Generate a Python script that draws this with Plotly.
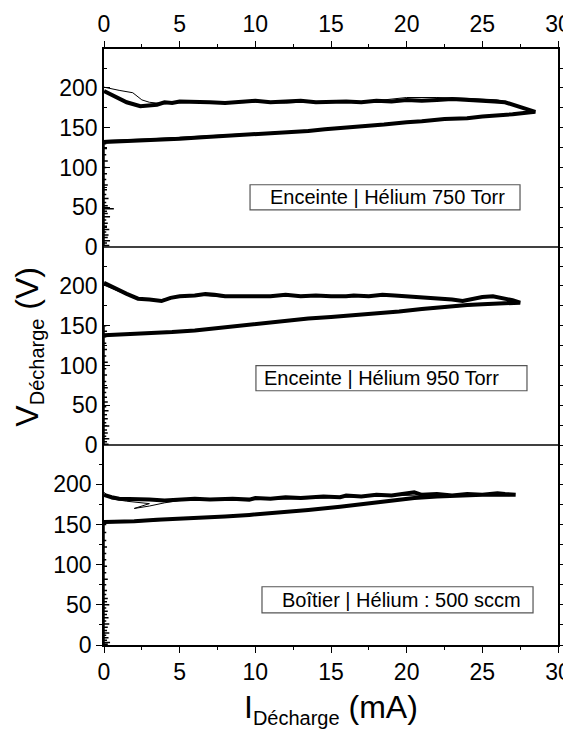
import plotly.graph_objects as go

# ---------------- data ----------------
# Panel 1 : Enceinte | Hélium 750 Torr
top_I_a = [0, 1.5, 2.5, 3.5, 5, 6.5, 7.5, 9.65, 11, 12, 13.5, 14.6, 16, 17, 18.5, 20, 21, 22.5, 24, 25, 26, 27, 28.5,
           27.8, 27.2, 26.5, 25.8, 25, 24, 23, 22, 21, 20, 19, 18, 17, 16, 15, 14, 13, 12, 11, 10, 9, 8, 7, 6, 5, 4.5,
           4, 3.5, 3, 2.4, 1.5, 1, 0.5, 0]
top_V_a = [132, 133, 134, 135, 136, 138, 139, 141, 143, 144, 146, 148, 150, 152, 154, 157, 158, 161, 162, 164, 165, 167, 170,
           174, 178, 182, 183, 184, 185, 186, 185, 184, 185, 183, 184, 182, 183, 183, 182, 184, 183, 182, 184, 183, 181, 182, 183, 183, 181,
           182, 179, 178, 177, 182, 187, 191, 196]
top_I_b = [0, 3, 6, 9, 12, 15, 18, 21, 24, 26, 27.5, 28.3,
           27.8, 27, 26, 24, 22, 20, 18, 16, 14, 12, 10, 8, 6, 4, 3, 2.5, 1.9, 1, 0]
top_V_b = [134, 136, 139, 142, 145, 149, 154, 159, 163, 165, 167, 169,
           174, 180, 185, 187, 188, 188, 184, 182, 183, 181, 182, 181, 183, 180, 182, 185, 194, 197, 201]
top_spike_V = [2, 5, 8, 12, 15, 19, 22, 26, 30, 34, 38, 42, 45, 48, 52, 56, 61, 66, 72, 78, 85, 92, 100, 108, 116, 124, 130]
top_spike_I = [0.35, 0.2, 0.4, 0.25, 0.3, 0.15, 0.35, 0.2, 0.25, 0.15, 0.4, 0.25, 0.2, 0.65, 0.25, 0.15, 0.3, 0.15, 0.2, 0.25, 0.15, 0.2, 0.15, 0.25, 0.15, 0.2, 0.15]

# Panel 2 : Enceinte | Hélium 950 Torr
mid_I_a = [0, 1.5, 3, 4.5, 6, 8, 9.6, 11, 12.3, 13.5, 15, 16.5, 18, 19.5, 21, 22, 23, 24, 25, 26, 27.5,
           27, 26.5, 25.7, 25, 24.5, 23.7, 23, 22, 21, 20, 19.2, 18.4, 17.5, 16.5, 16, 15, 14, 13, 12, 11, 10, 9, 8,
           7.3, 6.7, 6, 5, 4.4, 3.8, 3, 2.25, 1.5, 1, 0.5, 0]
mid_V_a = [138, 139, 140, 142, 144, 148, 152, 155, 157, 159, 161, 163, 166, 168, 171, 173, 175, 176, 177, 178, 179,
           182, 184, 187, 186, 184, 181, 183, 184, 185, 186, 188, 189, 187, 188, 187, 187, 188, 187, 189, 187, 187, 188, 187,
           189, 190, 188, 187, 185, 181, 183, 184, 190, 195, 199, 204]
mid_I_b = [0, 3, 6, 9, 12, 15, 18, 21, 24, 26, 27.3,
           26.3, 25, 24, 22, 20, 18, 16, 14, 12, 10, 8, 6, 4.5, 3.5, 2.3, 1, 0]
mid_V_b = [139, 141, 145, 150, 156, 160, 165, 170, 175, 177, 178,
           185, 186, 182, 185, 187, 188, 186, 189, 187, 188, 186, 189, 185, 182, 185, 193, 201]
mid_spike_V = [1, 4, 8, 11, 15, 19, 24, 28, 33, 38, 43, 48, 54, 60, 66, 72, 80, 88, 96, 104, 112, 120, 128, 136, 143, 150]
mid_spike_I = [0.3, 0.2, 0.35, 0.15, 0.25, 0.2, 0.35, 0.15, 0.25, 0.2, 0.3, 0.15, 0.25, 0.2, 0.15, 0.25, 0.15, 0.2, 0.15, 0.25, 0.15, 0.2, 0.15, 0.15, 0.2, 0.15]

# Panel 3 : Boîtier | Hélium : 500 sccm
bot_I_a = [0, 2, 3.5, 5, 6.5, 8, 9.6, 11, 12, 13.5, 15.6, 17, 18, 19.5, 20.5, 22, 23, 24, 25, 26, 27.2,
           26.5, 26, 25, 24, 23, 22, 21, 20.5, 19.5, 19, 18, 17, 16, 15.6, 14.5, 13, 12, 11, 10, 9.6, 8.5, 7, 6, 5, 4,
           3, 2, 1, 0.5, 0]
bot_V_a = [153, 154, 156, 157, 158, 160, 162, 164, 166, 168, 172, 175, 178, 181, 183, 185, 186, 186, 187, 187, 187,
           188, 189, 187, 188, 186, 188, 187, 190, 188, 186, 187, 185, 186, 184, 185, 183, 184, 182, 183, 181, 182, 181, 182, 181, 180,
           181, 181, 182, 184, 187]
bot_I_b = [0, 3, 6, 9, 12, 15, 18, 21, 24, 26.8,
           25, 22, 19, 16, 13, 10, 7, 5, 4, 3, 2, 3, 1.5, 0.5, 0]
bot_V_b = [152, 154, 158, 161, 165, 170, 177, 183, 186, 186,
           188, 187, 186, 184, 182, 181, 180, 180, 177, 173, 170, 176, 179, 182, 190]
bot_spike_V = [1, 3, 6, 9, 12, 15, 18, 22, 26, 30, 34, 38, 42, 46, 50, 54, 58, 63, 68, 75, 82, 90, 98, 106, 114, 122, 130, 140, 150]
bot_spike_I = [0.25, 0.4, 0.2, 0.3, 0.15, 0.35, 0.2, 0.25, 0.35, 0.15, 0.3, 0.2, 0.25, 0.15, 0.35, 0.2, 0.25, 0.15, 0.2, 0.15, 0.25, 0.15, 0.2, 0.15, 0.15, 0.2, 0.15, 0.15, 0.15]

panel_labels = ["Enceinte | Hélium 750 Torr", "Enceinte | Hélium 950 Torr", "Boîtier | Hélium : 500 sccm"]
y_ticks = [0, 50, 100, 150, 200]
y_minor = [25, 75, 125, 175, 225]
x_ticks = [0, 5, 10, 15, 20, 25, 30]
x_minor = [2.5, 7.5, 12.5, 17.5, 22.5, 27.5]

# ---------------- figure ----------------
FONT = "Liberation Sans"
fig = go.Figure()

def spikes(sV, sI):
    xs, ys = [], []
    for v, i in zip(sV, sI):
        xs += [0, i, 0]
        ys += [v, v, v]
    return xs, ys

def add_panel(yref, Ia, Va, Ib, Vb, sV, sI):
    nx, ny = spikes(sV, sI)
    fig.add_trace(go.Scatter(x=nx, y=ny, mode="lines", line=dict(color="black", width=1.5),
                             xaxis="x", yaxis=yref, showlegend=False))
    fig.add_trace(go.Scatter(x=Ib, y=Vb, mode="lines", line=dict(color="black", width=1),
                             xaxis="x", yaxis=yref, showlegend=False))
    fig.add_trace(go.Scatter(x=Ia, y=Va, mode="lines", line=dict(color="black", width=4),
                             xaxis="x", yaxis=yref, showlegend=False))

add_panel("y3", top_I_a, top_V_a, top_I_b, top_V_b, top_spike_V, top_spike_I)
add_panel("y2", mid_I_a, mid_V_a, mid_I_b, mid_V_b, mid_spike_V, mid_spike_I)
add_panel("y", bot_I_a, bot_V_a, bot_I_b, bot_V_b, bot_spike_V, bot_spike_I)

# invisible traces to activate the mirror axes
fig.add_trace(go.Scatter(x=[None], y=[None], xaxis="x2", yaxis="y3", showlegend=False))
for ya in ["y4", "y5", "y6"]:
    fig.add_trace(go.Scatter(x=[None], y=[None], xaxis="x", yaxis=ya, showlegend=False))

# the page adds an 8 px body margin: figure is 563x723 placed at (8, 8)
W, Hfig = 563, 723
L, R, T, B = 96, 13, 41, 86
H = Hfig - T - B
d1 = 200 / H
d2 = 398 / H
yr = [0, 249]

tickfont = dict(family=FONT, size=23, color="black")

def yax(domain, ticks):
    return dict(domain=domain, range=yr, tickvals=y_ticks, ticks=ticks, ticklen=6, tickwidth=1.2,
                showline=True, linecolor="black", linewidth=1.5, tickcolor="black",
                tickfont=tickfont, showgrid=False, zeroline=False, anchor="x", automargin=False,
                minor=dict(tickmode="array", tickvals=y_minor, ticks=ticks, ticklen=3,
                           tickcolor="black", tickwidth=1.2))

def yright(base):
    return dict(overlaying=base, side="right", range=yr, tickvals=y_ticks, ticks="outside", ticklen=6,
                tickwidth=1.2, tickcolor="black", showticklabels=False, showline=True, linecolor="black",
                linewidth=1.5, showgrid=False, zeroline=False, anchor="x", automargin=False,
                minor=dict(tickmode="array", tickvals=y_minor, ticks="outside", ticklen=3,
                           tickcolor="black", tickwidth=1.2))

xminor = dict(tickmode="array", tickvals=x_minor, ticks="outside", ticklen=3,
              tickcolor="black", tickwidth=1.2)

fig.update_layout(
    width=W, height=Hfig,
    margin=dict(l=L, r=R, t=T, b=B, autoexpand=False),
    paper_bgcolor="white", plot_bgcolor="white",
    showlegend=False,
    xaxis=dict(domain=[0, 1], range=[0, 30], tickvals=x_ticks, ticks="outside", ticklen=6, tickwidth=1.2,
               tickcolor="black", showline=True, linecolor="black", linewidth=1.5, tickfont=tickfont,
               showgrid=False, zeroline=False, anchor="y", minor=xminor, automargin=False),
    xaxis2=dict(overlaying="x", side="top", anchor="y3", range=[0, 30], tickvals=x_ticks, ticks="outside",
                ticklen=6, tickwidth=1.2, tickcolor="black", showline=True, linecolor="black", linewidth=1.5,
                tickfont=tickfont, showgrid=False, zeroline=False, minor=xminor, automargin=False),
    yaxis=yax([0, d1], "outside"),
    yaxis2=yax([d1, d2], "inside"),
    yaxis3=yax([d2, 1], "inside"),
    yaxis4=yright("y"),
    yaxis5=yright("y2"),
    yaxis6=yright("y3"),
)

# separator lines between panels
for yy in [d1, d2]:
    fig.add_shape(type="line", xref="paper", yref="paper", x0=0, x1=1, y0=yy, y1=yy,
                  line=dict(color="black", width=1.5))

# label boxes (data coordinates of each panel)
boxes = [
    ("y3", 9.65, 27.49, 46.7, 78.3, 10.84, 62.5),
    ("y2", 10.04, 27.95, 68.2, 99.7, 10.45, 84.0),
    ("y", 10.44, 28.35, 40.0, 72.5, 11.63, 56.0),
]
for (yref, x0, x1, y0, y1, tx, ty), label in zip(boxes, panel_labels):
    fig.add_shape(type="rect", xref="x", yref=yref, x0=x0, x1=x1, y0=y0, y1=y1,
                  line=dict(color="#555555", width=1.2), fillcolor="white", layer="above")
    fig.add_annotation(x=tx, y=ty, xref="x", yref=yref, text=label, showarrow=False,
                       xanchor="left", yanchor="middle",
                       font=dict(family=FONT, size=20, color="black"))

# axis titles
fig.add_annotation(x=0.5, y=-0.07, xref="paper", yref="paper", xanchor="center", yanchor="top",
                   text="I<sub><span style='font-size:20px'>Décharge</span></sub> (mA)", showarrow=False,
                   font=dict(family=FONT, size=32, color="black"))
fig.add_annotation(x=-0.166, y=0.5, xref="paper", yref="paper", xanchor="center", yanchor="middle",
                   textangle=-90,
                   text="V<sub><span style='font-size:20px'>Décharge</span></sub> (V)", showarrow=False,
                   font=dict(family=FONT, size=32, color="black"))

fig.write_html("out.html")
